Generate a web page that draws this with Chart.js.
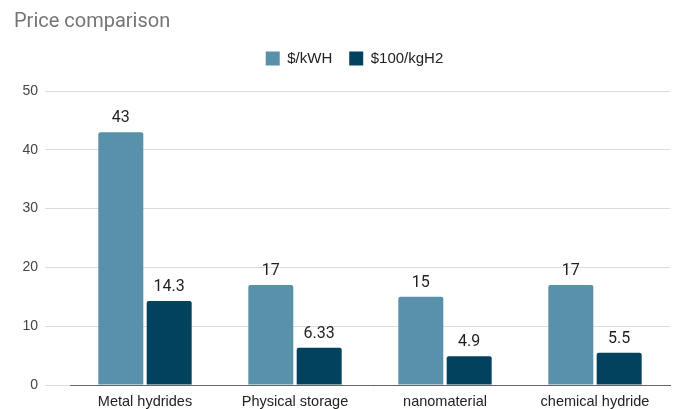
<!DOCTYPE html>
<html>
<head>
<meta charset="utf-8">
<script src="https://cdn.jsdelivr.net/npm/chart.js@4"></script>
<style>
  html, body { margin: 0; padding: 0; background: #fff; }
  #wrap { width: 681px; height: 409px; }
</style>
</head>
<body>
<div id="wrap"><canvas id="c" width="681" height="409"></canvas></div>
<script>
// Storage methods being compared
const categories = ['Metal hydrides', 'Physical storage', 'nanomaterial', 'chemical hydride'];
// Cost per kWh
const costPerKwh = [43, 17, 15, 17];
// Cost per 100 kg of H2
const costPer100kgH2 = [14.3, 6.33, 4.9, 5.5];
const yTicks = [0, 10, 20, 30, 40, 50];

// Writes each bar's value just above it
const valueLabels = {
  id: 'valueLabels',
  afterDatasetsDraw(chart) {
    const ctx = chart.ctx;
    ctx.save();
    ctx.font = '16px Roboto, "Liberation Sans", sans-serif';
    ctx.fillStyle = '#1f1f1f';
    ctx.textAlign = 'center';
    ctx.textBaseline = 'bottom';
    chart.data.datasets.forEach((ds, i) => {
      chart.getDatasetMeta(i).data.forEach((bar, j) => {
        ctx.fillText(String(ds.data[j]), bar.x, bar.y - 6);
      });
    });
    ctx.restore();
  }
};

// Leaves extra room under the legend and nudges it a bit right
const legendTweak = {
  id: 'legendTweak',
  beforeLayout(chart) {
    const lg = chart.legend;
    if (!lg || lg._tweaked) return;
    lg._tweaked = true;
    const fit = lg.fit;
    lg.fit = function () {
      fit.call(this);
      this.height += 15;
    };
  },
  afterLayout(chart) {
    const lg = chart.legend;
    if (lg) { lg.left += 25; }
  }
};

new Chart(document.getElementById('c'), {
  type: 'bar',
  data: {
    labels: categories,
    datasets: [
      { label: '$/kWH', data: costPerKwh, backgroundColor: '#5991ab', borderRadius: { topLeft: 2, topRight: 2 }, borderSkipped: 'bottom' },
      { label: '$100/kgH2', data: costPer100kgH2, backgroundColor: '#03425f', borderRadius: { topLeft: 2, topRight: 2 }, borderSkipped: 'bottom' }
    ]
  },
  options: {
    responsive: false,
    animation: false,
    devicePixelRatio: 1,
    categoryPercentage: 0.645,
    barPercentage: 0.93,
    layout: { padding: { left: 14, right: 11, top: 0, bottom: 0 } },
    plugins: {
      title: {
        display: true,
        text: 'Price comparison',
        align: 'start',
        color: '#757575',
        font: { family: 'Roboto, "Liberation Sans", sans-serif', size: 20, weight: 'normal' },
        padding: { top: 10, bottom: 0 }
      },
      legend: {
        display: true,
        position: 'top',
        labels: {
          boxWidth: 14,
          boxHeight: 14,
          color: '#222',
          padding: 17,
          font: { family: '"Liberation Sans", Arial, sans-serif', size: 15 }
        }
      },
      tooltip: { enabled: false }
    },
    scales: {
      x: {
        grid: { display: false, drawTicks: false },
        border: { display: true, color: '#666', width: 1 },
        ticks: {
          color: '#222',
          padding: 8,
          font: { family: '"Liberation Sans", Arial, sans-serif', size: 14.5 }
        },
        afterFit(s) { s.height = 24; }
      },
      y: {
        min: 0,
        max: 50,
        afterBuildTicks(s) { s.ticks = yTicks.map(v => ({ value: v })); },
        grid: { color: '#dcdcdc', tickLength: 25, tickColor: '#dcdcdc' },
        border: { display: false },
        ticks: {
          color: '#444',
          padding: 7,
          font: { family: '"Liberation Sans", Arial, sans-serif', size: 14 }
        },
        afterFit(s) { s.width = 56; }
      }
    }
  },
  plugins: [valueLabels, legendTweak]
});
</script>
</body>
</html>
